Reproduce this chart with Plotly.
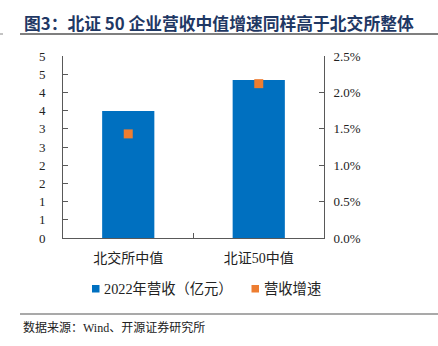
import plotly.graph_objects as go

categories = ["北交所中值", "北证50中值"]
revenue_2022 = [3.49, 4.34]          # 亿元
revenue_growth = [0.0143, 0.0212]    # 营收增速
left_tickvals = [0, 0.5, 1, 1.5, 2, 2.5, 3, 3.5, 4, 4.5, 5]
left_ticktext = ["0", "1", "1", "2", "2", "3", "3", "4", "4", "5", "5"]
right_tickvals = [0, 0.005, 0.01, 0.015, 0.02, 0.025]

title_text = "图3：北证 50 企业营收中值增速同样高于北交所整体"
source_text = "数据来源：Wind、开源证券研究所"
legend_names = ["2022年营收（亿元）", "营收增速"]

BLUE = "#0070C0"
ORANGE = "#ED7D31"
AX = "#595959"
SERIF = "Liberation Serif, Noto Sans CJK SC"

W, H = 438, 346
L, R, T, B = 63, 324, 56, 238


def px(x):
    return (x - L) / (R - L)


def py(y):
    return (B - y) / (B - T)


fig = go.Figure()
fig.add_trace(go.Bar(x=categories, y=revenue_2022, name=legend_names[0],
                     marker=dict(color=BLUE, line=dict(width=0)), width=0.4,
                     showlegend=False))
fig.add_trace(go.Scatter(x=categories, y=revenue_growth, name=legend_names[1],
                         mode="markers", yaxis="y2",
                         marker=dict(symbol="square", size=9, color=ORANGE),
                         showlegend=False))

shapes = [
    dict(type="line", xref="paper", yref="paper", x0=px(20), x1=px(438), y0=py(34), y1=py(34),
         line=dict(color="#555555", width=1.5)),
    dict(type="line", xref="paper", yref="paper", x0=px(0), x1=px(3), y0=py(34), y1=py(34),
         line=dict(color="#888888", width=1)),
    dict(type="line", xref="paper", yref="paper", x0=px(20), x1=px(438), y0=py(314), y1=py(314),
         line=dict(color="#555555", width=1.2)),
    dict(type="rect", xref="paper", yref="paper", x0=px(92), x1=px(99.5), y0=py(292.5), y1=py(285),
         fillcolor=BLUE, line=dict(width=0)),
    dict(type="rect", xref="paper", yref="paper", x0=px(251.5), x1=px(259), y0=py(292.5), y1=py(285),
         fillcolor=ORANGE, line=dict(width=0)),
]

annotations = [
    dict(text=title_text, xref="paper", yref="paper", x=px(22), y=py(23.5),
         xanchor="left", yanchor="middle", showarrow=False,
         font=dict(family="Noto Sans CJK SC", size=16.8, color="#1F3864", weight="bold")),
    dict(text=source_text, xref="paper", yref="paper", x=px(21), y=py(327),
         xanchor="left", yanchor="middle", showarrow=False,
         font=dict(family=SERIF, size=12, color="#222222")),
    dict(text=legend_names[0], xref="paper", yref="paper", x=px(102), y=py(289),
         xanchor="left", yanchor="middle", showarrow=False,
         font=dict(family=SERIF, size=14.3, color="#222222")),
    dict(text=legend_names[1], xref="paper", yref="paper", x=px(261.5), y=py(289),
         xanchor="left", yanchor="middle", showarrow=False,
         font=dict(family=SERIF, size=14.3, color="#222222")),
]

fig.update_layout(
    width=W, height=H,
    margin=dict(l=L, r=W - R, t=T, b=H - B, pad=0),
    paper_bgcolor="white", plot_bgcolor="white",
    showlegend=False,
    bargap=0.6,
    shapes=shapes,
    annotations=annotations,
    xaxis=dict(type="category", range=[-0.5, 1.5], showline=True, linecolor=AX, linewidth=1,
               ticks="inside", tickson="boundaries", ticklen=5, tickcolor=AX,
               showgrid=False, zeroline=False, ticklabelstandoff=7,
               tickfont=dict(family=SERIF, size=14, color="#222222")),
    yaxis=dict(range=[0, 5], tickvals=left_tickvals, ticktext=left_ticktext,
               showline=True, linecolor=AX, linewidth=1, ticks="inside", ticklen=5,
               tickcolor=AX, showgrid=False, zeroline=False, ticklabelstandoff=14,
               tickfont=dict(family=SERIF, size=13, color="#222222")),
    yaxis2=dict(range=[0, 0.025], tickvals=right_tickvals, tickformat=".1%",
                overlaying="y", side="right", showline=True, linecolor=AX, linewidth=1,
                ticks="inside", ticklen=5, tickcolor=AX, showgrid=False, zeroline=False,
                ticklabelstandoff=6,
                tickfont=dict(family=SERIF, size=13, color="#222222")),
)

fig.write_html("out.html")
